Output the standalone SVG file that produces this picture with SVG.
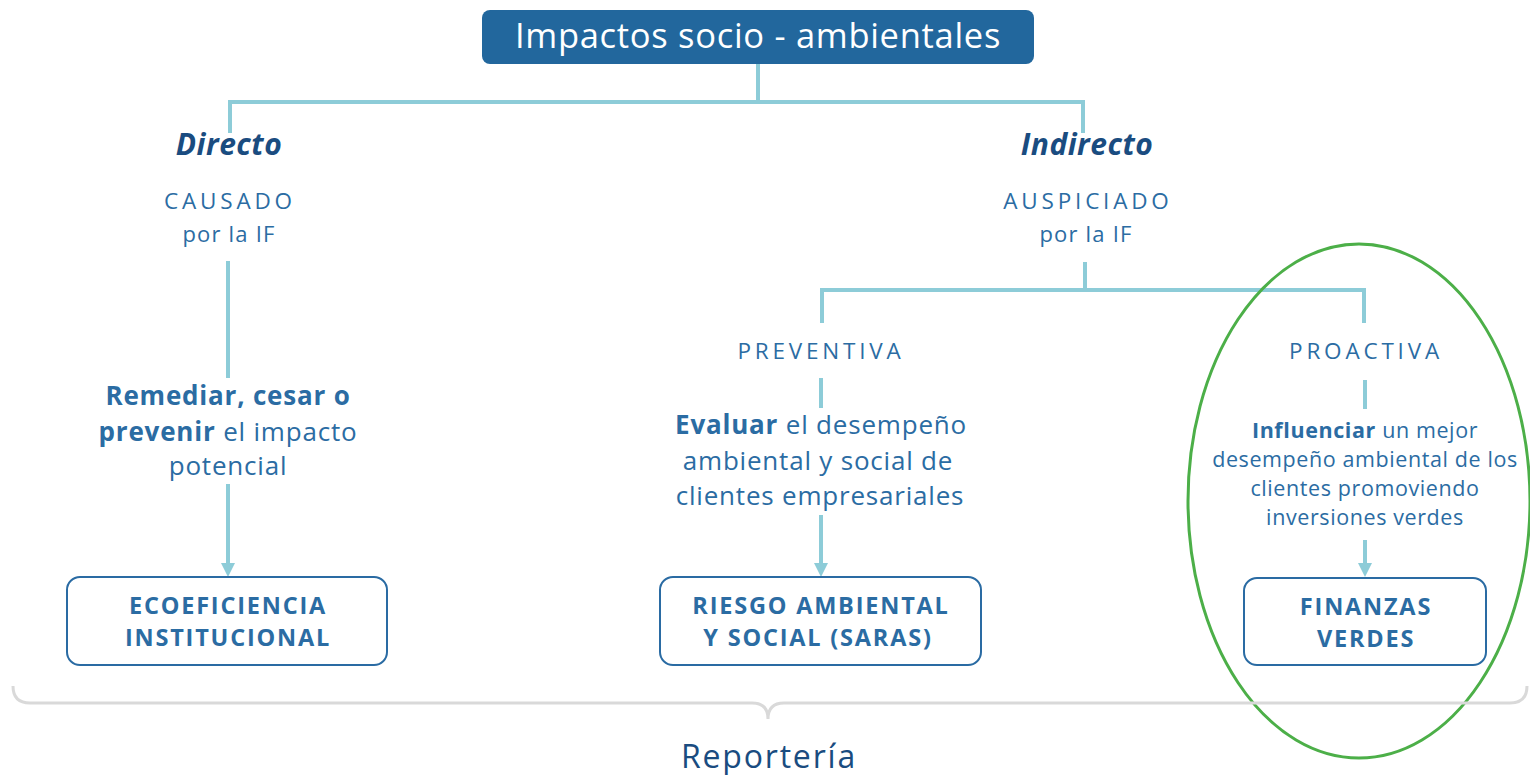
<svg xmlns="http://www.w3.org/2000/svg" width="1530" height="775" viewBox="0 0 1530 775">
<defs>
<style>
text{font-family:"Open Sans","Noto Sans","Liberation Sans",sans-serif;text-anchor:middle;fill:#2B6CA3}
.title{fill:#fff;font-size:34.5px;letter-spacing:0.7px}
.cat{font-size:30px;font-weight:bold;font-style:italic;fill:#1A4C80;letter-spacing:0.5px}
.cap{font-size:22.5px;letter-spacing:3.8px}
.sub{font-size:22px;letter-spacing:1.2px}
.desc{font-size:26px;letter-spacing:0.8px}
.desc2{font-size:21.5px;letter-spacing:0.6px}
.b{font-weight:bold}
.box{fill:#fff;stroke:#2A6BA3;stroke-width:2}
.boxt{font-size:23.5px;font-weight:bold;letter-spacing:1.8px}
.ln{fill:none;stroke:#8DCCD8;stroke-width:4}
.rep{font-size:32px;fill:#1A4C80;letter-spacing:1.8px}
</style>
</defs>

<g id="connectors">
<path class="ln" d="M758,64 V102 M230,133 V102 H1083 V133"/>
<path class="ln" d="M228,261 V378"/>
<path class="ln" d="M228,484 V564"/>
<path class="ln" d="M1085,262 V290 M822,323 V290 H1364 V323"/>
<path class="ln" d="M821,378 V408"/>
<path class="ln" d="M821,515 V564"/>
<path class="ln" d="M1365,380 V409"/>
<path class="ln" d="M1365,540 V564"/>
<path d="M221,563 L235,563 L228,577 Z" fill="#8DCCD8"/>
<path d="M814,563 L828,563 L821,577 Z" fill="#8DCCD8"/>
<path d="M1358,563 L1372,563 L1365,577 Z" fill="#8DCCD8"/>
</g>

<g id="root">
<rect x="482" y="10" width="552" height="54" rx="8" fill="#22679D"/>
<text class="title" x="758" y="48">Impactos socio - ambientales</text>
</g>

<g id="directo">
<text class="cat" x="229" y="155">Directo</text>
<text class="cap" x="230" y="209">CAUSADO</text>
<text class="sub" x="229" y="242">por la IF</text>
</g>

<g id="indirecto">
<text class="cat" x="1087" y="155">Indirecto</text>
<text class="cap" x="1088" y="209">AUSPICIADO</text>
<text class="sub" x="1086" y="242">por la IF</text>
</g>

<g id="remediar">
<text class="desc" x="228" y="405"><tspan class="b">Remediar, cesar o</tspan></text>
<text class="desc" x="228" y="441"><tspan class="b">prevenir</tspan> el impacto</text>
<text class="desc" x="228" y="475">potencial</text>
</g>

<g id="ecoeficiencia">
<rect class="box" x="67" y="577" width="320" height="88" rx="13"/>
<text class="boxt" x="228" y="614">ECOEFICIENCIA</text>
<text class="boxt" x="228" y="646">INSTITUCIONAL</text>
</g>

<g id="preventiva">
<text class="cap" x="821" y="359">PREVENTIVA</text>
</g>

<g id="evaluar">
<text class="desc" x="821" y="434"><tspan class="b">Evaluar</tspan> el desempeño</text>
<text class="desc" x="818" y="470">ambiental y social de</text>
<text class="desc" x="820" y="505">clientes empresariales</text>
</g>

<g id="riesgo">
<rect class="box" x="660" y="577" width="321" height="88" rx="13"/>
<text class="boxt" x="821" y="614">RIESGO AMBIENTAL</text>
<text class="boxt" x="818" y="646">Y SOCIAL (SARAS)</text>
</g>

<g id="proactiva">
<text class="cap" x="1366" y="359">PROACTIVA</text>
</g>

<g id="influenciar">
<text class="desc2" x="1365" y="438"><tspan class="b">Influenciar</tspan> un mejor</text>
<text class="desc2" x="1365" y="467">desempeño ambiental de los</text>
<text class="desc2" x="1365" y="496">clientes promoviendo</text>
<text class="desc2" x="1365" y="525">inversiones verdes</text>
</g>

<g id="finanzas">
<rect class="box" x="1244" y="578" width="242" height="87" rx="13"/>
<text class="boxt" x="1366" y="615">FINANZAS</text>
<text class="boxt" x="1366" y="647">VERDES</text>
</g>

<g id="highlight">
<ellipse cx="1359" cy="501" rx="171" ry="257" fill="none" stroke="#4CAF48" stroke-width="3"/>
</g>

<g id="reporteria">
<path d="M13,686 Q13,703 30,703 H752 Q768,703 768,719 Q768,703 784,703 H1510 Q1527,703 1527,686" fill="none" stroke="#D9D9D9" stroke-width="3"/>
<text class="rep" x="769" y="768">Reportería</text>
</g>
</svg>
